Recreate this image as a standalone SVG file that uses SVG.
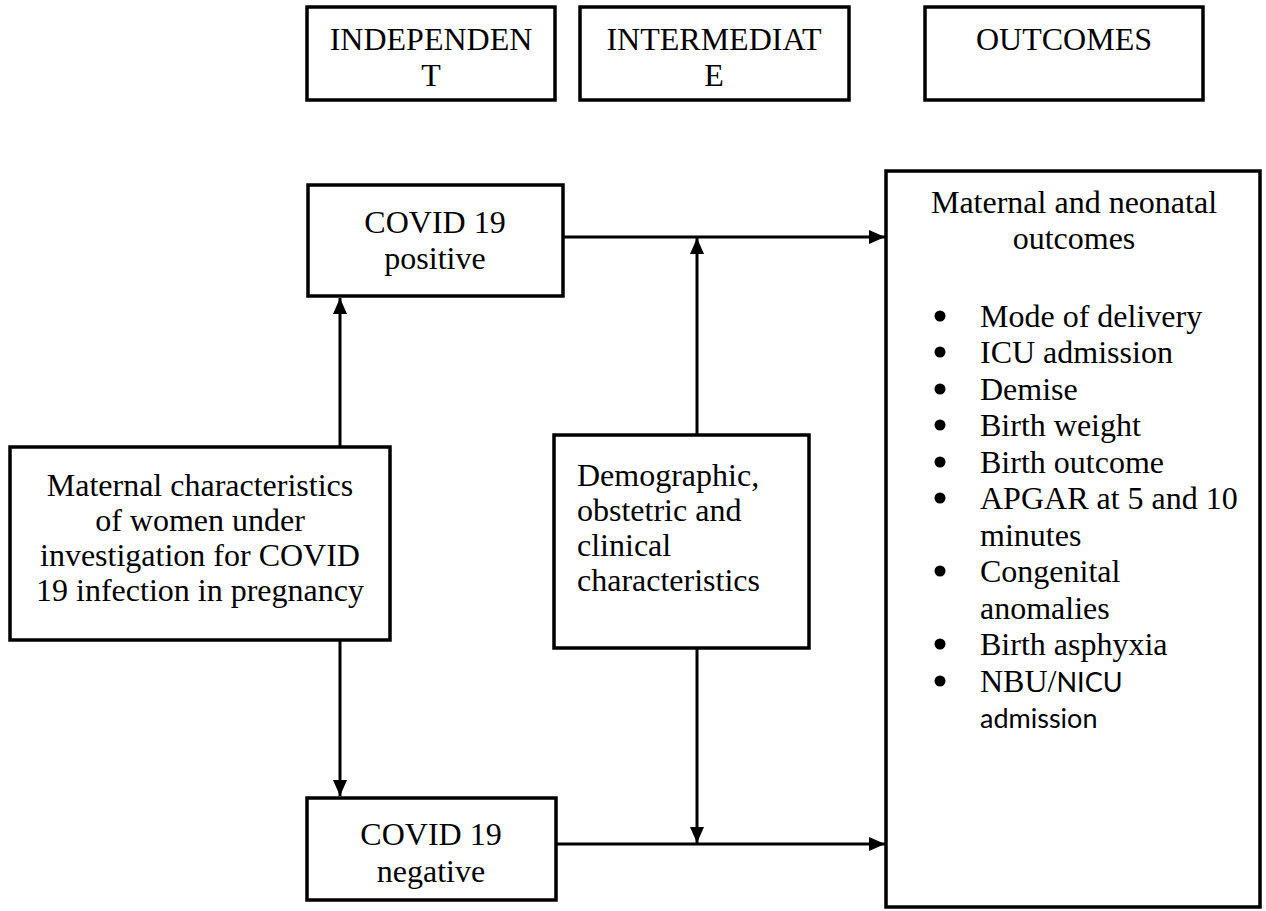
<svg xmlns="http://www.w3.org/2000/svg" width="1266" height="911" viewBox="0 0 1266 911">
<defs>
<style>
.box{fill:#fff;stroke:#000;stroke-width:3.5}
.t{font-family:"Liberation Serif","Times New Roman",serif;font-size:32px;fill:#000}
.c{text-anchor:middle}
.dot{fill:#000}
.s{font-family:Lato,"Open Sans",sans-serif;font-size:27px;fill:#000}
.ln{fill:none;stroke:#000;stroke-width:3}
</style>
<marker id="ah" viewBox="0 0 16 14" refX="16" refY="7" markerWidth="16" markerHeight="14" markerUnits="userSpaceOnUse" orient="auto">
<path d="M0,0 L16,7 L0,14 Z" fill="#000"/>
</marker>
</defs>
<rect width="1266" height="911" fill="#fff"/>
<g id="hdr-independent">
<rect class="box" x="307" y="7" width="248" height="93"/>
<text class="t c" x="431" y="50">INDEPENDEN</text>
<text class="t c" x="431" y="86">T</text>
</g>
<g id="hdr-intermediate">
<rect class="box" x="580" y="7" width="269" height="93"/>
<text class="t c" x="714" y="50">INTERMEDIAT</text>
<text class="t c" x="714" y="86">E</text>
</g>
<g id="hdr-outcomes">
<rect class="box" x="925" y="7" width="278" height="93"/>
<text class="t c" x="1064" y="50">OUTCOMES</text>
</g>
<g id="connectors">
<line class="ln" x1="340" y1="447" x2="340" y2="298" marker-end="url(#ah)"/>
<line class="ln" x1="340" y1="640" x2="340" y2="796" marker-end="url(#ah)"/>
<line class="ln" x1="563" y1="237" x2="885" y2="237" marker-end="url(#ah)"/>
<line class="ln" x1="556" y1="844" x2="885" y2="844" marker-end="url(#ah)"/>
<line class="ln" x1="697" y1="435" x2="697" y2="238" marker-end="url(#ah)"/>
<line class="ln" x1="697" y1="648" x2="697" y2="843" marker-end="url(#ah)"/>
</g>
<g id="covid-positive">
<rect class="box" x="308" y="185" width="255" height="111"/>
<text class="t c" x="435" y="233">COVID 19</text>
<text class="t c" x="435" y="269">positive</text>
</g>
<g id="covid-negative">
<rect class="box" x="307" y="798" width="249" height="102"/>
<text class="t c" x="431" y="845">COVID 19</text>
<text class="t c" x="431" y="882">negative</text>
</g>
<g id="maternal">
<rect class="box" x="10" y="447" width="380" height="193"/>
<text class="t c" x="200" y="496">Maternal characteristics</text>
<text class="t c" x="200" y="531">of women under</text>
<text class="t c" x="200" y="566">investigation for COVID</text>
<text class="t c" x="200" y="601">19 infection in pregnancy</text>
</g>
<g id="demographic">
<rect class="box" x="554" y="435" width="255" height="213"/>
<text class="t" x="577" y="486">Demographic,</text>
<text class="t" x="577" y="521">obstetric and</text>
<text class="t" x="577" y="556">clinical</text>
<text class="t" x="577" y="591">characteristics</text>
</g>
<g id="outcomes">
<rect class="box" x="886" y="171" width="374" height="736"/>
<text class="t c" x="1074" y="213">Maternal and neonatal</text>
<text class="t c" x="1074" y="249">outcomes</text>
<circle class="dot" cx="940" cy="316" r="5.5"/><text class="t" x="980" y="327">Mode of delivery</text>
<circle class="dot" cx="940" cy="352" r="5.5"/><text class="t" x="980" y="363">ICU admission</text>
<circle class="dot" cx="940" cy="389" r="5.5"/><text class="t" x="980" y="400">Demise</text>
<circle class="dot" cx="940" cy="425" r="5.5"/><text class="t" x="980" y="436">Birth weight</text>
<circle class="dot" cx="940" cy="462" r="5.5"/><text class="t" x="980" y="473">Birth outcome</text>
<circle class="dot" cx="940" cy="498" r="5.5"/><text class="t" x="980" y="509">APGAR at 5 and 10</text>
<text class="t" x="980" y="546">minutes</text>
<circle class="dot" cx="940" cy="571" r="5.5"/><text class="t" x="980" y="582">Congenital</text>
<text class="t" x="980" y="619">anomalies</text>
<circle class="dot" cx="940" cy="644" r="5.5"/><text class="t" x="980" y="655">Birth asphyxia</text>
<circle class="dot" cx="940" cy="681" r="5.5"/><text class="t" x="980" y="692">NBU/<tspan class="s">NICU</tspan></text>
<text class="s" x="980" y="728">admission</text>
</g>
</svg>
